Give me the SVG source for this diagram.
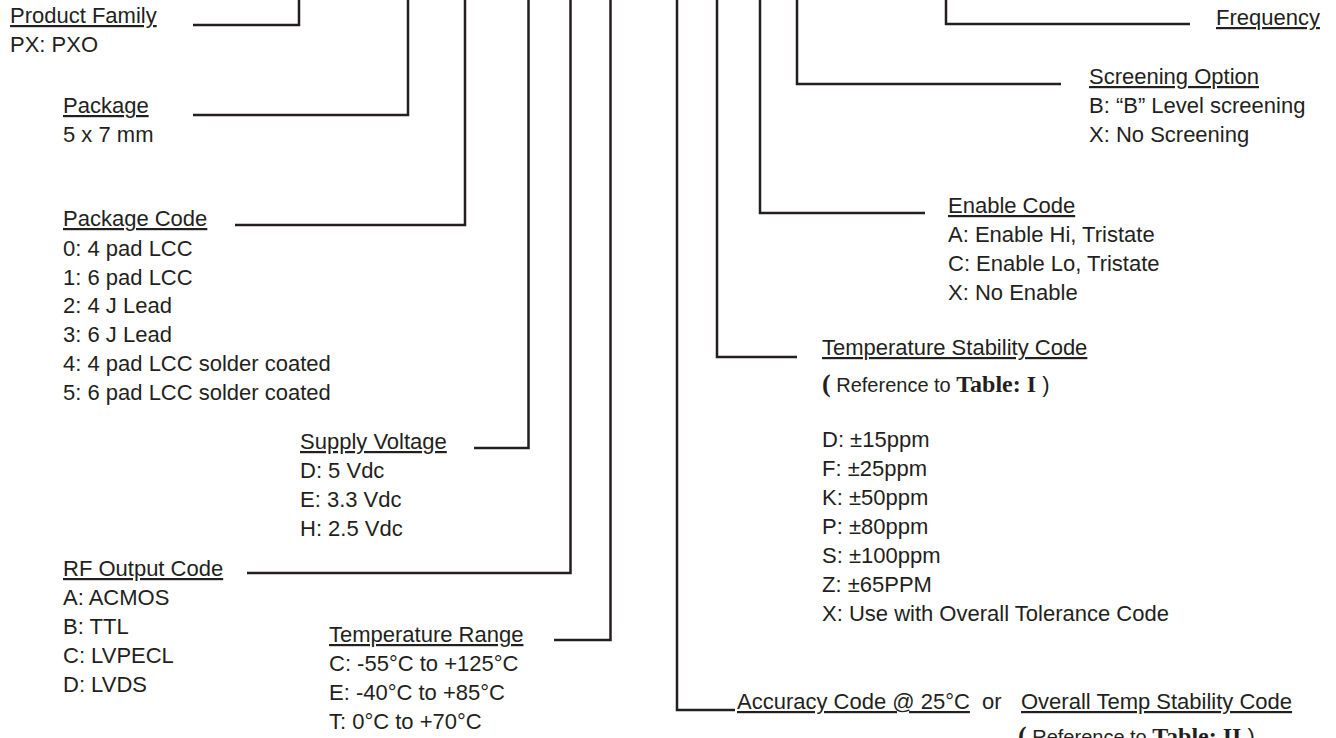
<svg xmlns="http://www.w3.org/2000/svg" width="1336" height="738" viewBox="0 0 1336 738">
<style>
.t{font-family:"Liberation Sans",Arial,sans-serif;font-size:22px;fill:#231f20}
.h{text-decoration:underline}
.s{font-family:"Liberation Serif","Times New Roman",serif;font-weight:bold}
.c{fill:none;stroke:#231f20;stroke-width:2.5}
</style>
<rect width="1336" height="738" fill="#fff"/>
<g id="connectors" class="c">
<polyline points="193,25 299,25 299,0"/>
<polyline points="193,115 408,115 408,0"/>
<polyline points="235,225 465,225 465,0"/>
<polyline points="474,448 528.5,448 528.5,0"/>
<polyline points="247,573 570.5,573 570.5,0"/>
<polyline points="554,640 610.5,640 610.5,0"/>
<polyline points="735,710 677,710 677,0"/>
<polyline points="797,357 717,357 717,0"/>
<polyline points="925,213 760,213 760,0"/>
<polyline points="1061,84 797,84 797,0"/>
<polyline points="1190,24 946,24 946,0"/>
</g>
<g id="product-family" class="t">
<text x="10" y="23" class="h">Product Family</text>
<text x="10" y="52">PX: PXO</text>
</g>
<g id="package" class="t">
<text x="63" y="113" class="h">Package</text>
<text x="63" y="142">5 x 7 mm</text>
</g>
<g id="package-code" class="t">
<text x="63" y="226" class="h">Package Code</text>
<text x="63" y="256">0: 4 pad LCC</text>
<text x="63" y="285">1: 6 pad LCC</text>
<text x="63" y="313">2: 4 J Lead</text>
<text x="63" y="342">3: 6 J Lead</text>
<text x="63" y="371">4: 4 pad LCC solder coated</text>
<text x="63" y="400">5: 6 pad LCC solder coated</text>
</g>
<g id="supply-voltage" class="t">
<text x="300" y="449" class="h">Supply Voltage</text>
<text x="300" y="478">D: 5 Vdc</text>
<text x="300" y="507">E: 3.3 Vdc</text>
<text x="300" y="536">H: 2.5 Vdc</text>
</g>
<g id="rf-output-code" class="t">
<text x="63" y="576" class="h">RF Output Code</text>
<text x="63" y="605">A: ACMOS</text>
<text x="63" y="634">B: TTL</text>
<text x="63" y="663">C: LVPECL</text>
<text x="63" y="692">D: LVDS</text>
</g>
<g id="temperature-range" class="t">
<text x="329" y="642" class="h">Temperature Range</text>
<text x="329" y="671">C: -55°C to +125°C</text>
<text x="329" y="700">E: -40°C to +85°C</text>
<text x="329" y="729">T: 0°C to +70°C</text>
</g>
<g id="accuracy-code" class="t">
<text x="737" y="709" class="h">Accuracy Code @ 25°C</text>
<text x="982" y="709">or</text>
<text x="1021" y="709" class="h">Overall Temp Stability Code</text>
<text x="1018" y="744"><tspan class="s" font-size="26">(</tspan><tspan font-size="20"> Reference to </tspan><tspan class="s" font-size="24">Table: II</tspan><tspan font-size="22"> )</tspan></text>
</g>
<g id="temperature-stability-code" class="t">
<text x="822" y="355" class="h">Temperature Stability Code</text>
<text x="822" y="392"><tspan class="s" font-size="26">(</tspan><tspan font-size="20"> Reference to </tspan><tspan class="s" font-size="24">Table: I</tspan><tspan font-size="22"> )</tspan></text>
<text x="822" y="447">D: ±15ppm</text>
<text x="822" y="476">F: ±25ppm</text>
<text x="822" y="505">K: ±50ppm</text>
<text x="822" y="534">P: ±80ppm</text>
<text x="822" y="563">S: ±100ppm</text>
<text x="822" y="592">Z: ±65PPM</text>
<text x="822" y="621">X: Use with Overall Tolerance Code</text>
</g>
<g id="enable-code" class="t">
<text x="948" y="213" class="h">Enable Code</text>
<text x="948" y="242">A: Enable Hi, Tristate</text>
<text x="948" y="271">C: Enable Lo, Tristate</text>
<text x="948" y="300">X: No Enable</text>
</g>
<g id="screening-option" class="t">
<text x="1089" y="84" class="h">Screening Option</text>
<text x="1089" y="113">B: “B” Level screening</text>
<text x="1089" y="142">X: No Screening</text>
</g>
<g id="frequency" class="t">
<text x="1216" y="25" class="h">Frequency</text>
</g>
</svg>
